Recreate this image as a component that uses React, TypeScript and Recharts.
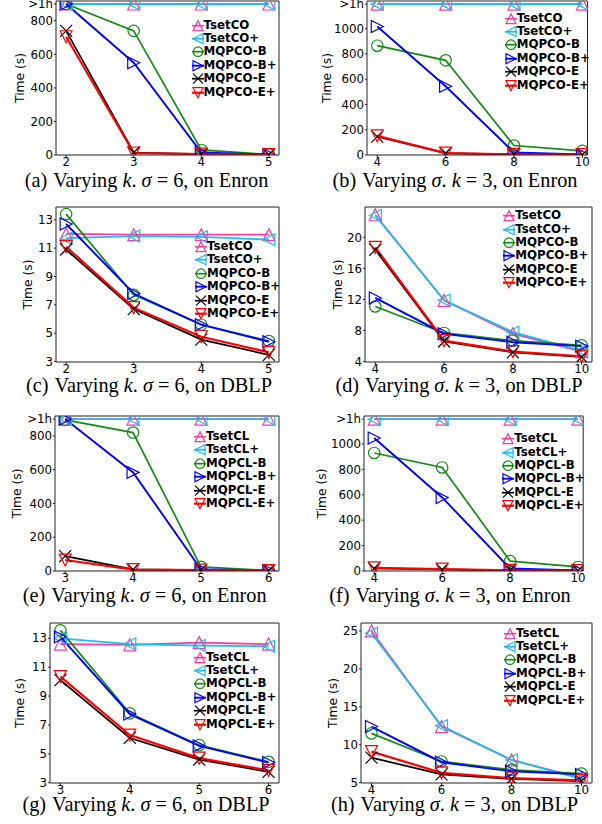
import React from 'react';
import { LineChart, Line, XAxis, YAxis, ReferenceLine, Legend } from 'recharts';

// ---------- data ----------
const kEnronCO = [2, 3, 4, 5];
const sigma = [4, 6, 8, 10];
const kCL = [3, 4, 5, 6];

const namesCO = ['TsetCO', 'TsetCO+', 'MQPCO-B', 'MQPCO-B+', 'MQPCO-E', 'MQPCO-E+'];
const namesCL = ['TsetCL', 'TsetCL+', 'MQPCL-B', 'MQPCL-B+', 'MQPCL-E', 'MQPCL-E+'];

// (a) Varying k, sigma=6, Enron (900 = ">1h")
const aTset = [900, 900, 900, 900];
const aTsetP = [900, 900, 900, 900];
const aB = [900, 740, 30, 3];
const aBP = [900, 550, 15, 3];
const aE = [740, 15, 5, 2];
const aEP = [705, 12, 5, 2];

// (b) Varying sigma, k=3, Enron (1195 = ">1h")
const bTset = [1195, 1195, 1195, 1195];
const bTsetP = [1195, 1195, 1195, 1195];
const bB = [866, 750, 75, 33];
const bBP = [1018, 545, 20, 5];
const bE = [145, 15, 5, 3];
const bEP = [152, 15, 5, 3];

// (c) Varying k, sigma=6, DBLP
const cTset = [12.0, 11.95, 11.95, 11.95];
const cTsetP = [11.7, 11.85, 11.8, 11.6];
const cB = [13.4, 7.7, 5.6, 4.45];
const cBP = [12.7, 7.8, 5.6, 4.4];
const cE = [10.9, 6.7, 4.55, 3.47];
const cEP = [11.1, 6.8, 4.75, 3.65];

// (d) Varying sigma, k=3, DBLP
const dTset = [22.9, 11.9, 7.6, 5.3];
const dTsetP = [22.8, 11.9, 7.8, 5.4];
const dB = [11.1, 7.7, 6.7, 6.1];
const dBP = [12.2, 7.6, 6.5, 6.0];
const dE = [18.4, 6.6, 5.2, 4.6];
const dEP = [18.7, 6.7, 5.3, 4.7];

// (e) Varying k, sigma=6, Enron (CL)
const eTset = [900, 900, 900, 900];
const eTsetP = [900, 900, 900, 900];
const eB = [895, 820, 25, 3];
const eBP = [900, 584, 10, 3];
const eE = [88, 10, 5, 3];
const eEP = [65, 8, 5, 3];

// (f) Varying sigma, k=3, Enron (CL)
const fTset = [1195, 1195, 1195, 1195];
const fTsetP = [1195, 1195, 1195, 1195];
const fB = [929, 815, 78, 32];
const fBP = [1047, 579, 20, 5];
const fE = [20, 12, 5, 3];
const fEP = [25, 15, 5, 3];

// (g) Varying k, sigma=6, DBLP (CL)
const gTset = [12.6, 12.55, 12.7, 12.6];
const gTsetP = [13.0, 12.6, 12.5, 12.45];
const gB = [13.55, 7.8, 5.6, 4.45];
const gBP = [13.1, 7.75, 5.55, 4.4];
const gE = [10.1, 6.1, 4.6, 3.75];
const gEP = [10.35, 6.3, 4.7, 3.85];

// (h) Varying sigma, k=3, DBLP (CL)
const hTset = [25.0, 12.4, 8.0, 5.6];
const hTsetP = [24.7, 12.5, 8.0, 5.5];
const hB = [11.5, 7.8, 6.7, 6.2];
const hBP = [12.4, 7.7, 6.5, 6.1];
const hE = [8.3, 6.1, 5.5, 5.2];
const hEP = [9.1, 6.3, 5.6, 5.3];

const ticksEnronA = [0, 200, 400, 600, 800, 900];
const ticksEnronB = [0, 200, 400, 600, 800, 1000, 1195];
const ticksDblpK = [3, 5, 7, 9, 11, 13];
const ticksDblpS = [4, 8, 12, 16, 20];
const ticksDblpH = [5, 10, 15, 20, 25];

// ---------- style ----------
const PINK = '#f63c9e';
const CYAN = '#1cbcf5';
const GREEN = '#108c10';
const BLUE = '#0000ff';
const BLACK = '#000000';
const RED = '#ff0000';

const SERIES = [
  { key: 't', shape: 'up', color: PINK, width: 1.7 },
  { key: 'tp', shape: 'left', color: CYAN, width: 1.8 },
  { key: 'b', shape: 'circle', color: GREEN, width: 1.7 },
  { key: 'bp', shape: 'right', color: BLUE, width: 1.9 },
  { key: 'e', shape: 'x', color: BLACK, width: 1.7 },
  { key: 'ep', shape: 'down', color: RED, width: 2.2 },
];

function rows(x: number[], s: number[][]) {
  return x.map((xv, i) => ({
    x: xv, t: s[0][i], tp: s[1][i], b: s[2][i], bp: s[3][i], e: s[4][i], ep: s[5][i],
  }));
}

function Marker({ shape, color, cx, cy, s = 6, sw = 1.2 }: any) {
  const c = { fill: 'none', stroke: color, strokeWidth: sw, strokeLinejoin: 'miter' as const };
  switch (shape) {
    case 'up':
      return <polygon points={`${cx},${cy - s} ${cx - s},${cy + s} ${cx + s},${cy + s}`} {...c} />;
    case 'down':
      return <polygon points={`${cx},${cy + s} ${cx - s},${cy - s} ${cx + s},${cy - s}`} {...c} />;
    case 'left':
      return <polygon points={`${cx - s},${cy} ${cx + s},${cy - s} ${cx + s},${cy + s}`} {...c} />;
    case 'right':
      return <polygon points={`${cx + s},${cy} ${cx - s},${cy - s} ${cx - s},${cy + s}`} {...c} />;
    case 'circle':
      return <circle cx={cx} cy={cy} r={s * 0.95} {...c} />;
    default:
      return <path d={`M${cx - s},${cy - s}L${cx + s},${cy + s}M${cx - s},${cy + s}L${cx + s},${cy - s}`} {...c} />;
  }
}

const ROWH = 13.4;

function LegendBox({ names }: { names: string[] }) {
  return (
    <div style={{ fontFamily: 'DejaVu Sans', fontWeight: 'bold', fontSize: 11.8, color: '#000', lineHeight: `${ROWH}px`, whiteSpace: 'nowrap' }}>
      {SERIES.map((s, i) => (
        <div key={s.key} style={{ display: 'flex', alignItems: 'center', height: ROWH }}>
          <svg width={14} height={ROWH} style={{ overflow: 'visible', display: 'block' }}>
            <line x1={1} x2={13} y1={ROWH / 2} y2={ROWH / 2} stroke={s.color} strokeWidth={s.width} />
            <Marker shape={s.shape} color={s.color} cx={7} cy={ROWH / 2} s={5} />
          </svg>
          <span style={{ marginLeft: -1 }}>{names[i]}</span>
        </div>
      ))}
    </div>
  );
}

type Panel = {
  id: string; data: any[]; names: string[];
  L: number; T: number; R: number; B: number;
  xd: [number, number]; xt: number[]; yd: [number, number]; yt: number[];
  hour?: number; labX: number; legX: number; legY: number;
  cap: [string, string, string, string, string]; capX: number; capY: number;
};

const PANELS: Panel[] = [
  { id: 'a', data: rows(kEnronCO, [aTset, aTsetP, aB, aBP, aE, aEP]), names: namesCO,
    L: 56, T: 1, R: 279, B: 155, xd: [1.85, 5.15], xt: kEnronCO, yd: [0, 918], yt: ticksEnronA, hour: 900,
    labX: 20, legX: 197.5, legY: 25.3, cap: ['(a)', 'k', 'σ', '6', 'Enron'], capX: 146.5, capY: 187 },
  { id: 'b', data: rows(sigma, [bTset, bTsetP, bB, bBP, bE, bEP]), names: namesCO,
    L: 366.5, T: 1, R: 587, B: 155, xd: [3.7, 10.15], xt: sigma, yd: [0, 1220], yt: ticksEnronB, hour: 1195,
    labX: 326.7, legX: 510.7, legY: 18.3, cap: ['(b)', 'σ', 'k', '3', 'Enron'], capX: 455, capY: 187 },
  { id: 'c', data: rows(kEnronCO, [cTset, cTsetP, cB, cBP, cE, cEP]), names: namesCO,
    L: 56, T: 207, R: 279, B: 362, xd: [1.85, 5.15], xt: kEnronCO, yd: [2.97, 13.9], yt: ticksDblpK,
    labX: 28.3, legX: 201, legY: 246.7, cap: ['(c)', 'k', 'σ', '6', 'DBLP'], capX: 149, capY: 392.3 },
  { id: 'd', data: rows(sigma, [dTset, dTsetP, dB, dBP, dE, dEP]), names: namesCO,
    L: 365, T: 207, R: 592, B: 362, xd: [3.7, 10.3], xt: sigma, yd: [3.96, 23.9], yt: ticksDblpS,
    labX: 338, legX: 509.3, legY: 216, cap: ['(d)', 'σ', 'k', '3', 'DBLP'], capX: 459, capY: 392.3 },
  { id: 'e', data: rows(kCL, [eTset, eTsetP, eB, eBP, eE, eEP]), names: namesCL,
    L: 55, T: 416, R: 279, B: 571, xd: [2.85, 6.15], xt: kCL, yd: [0, 918], yt: ticksEnronA, hour: 900,
    labX: 16.7, legX: 200, legY: 436.7, cap: ['(e)', 'k', 'σ', '6', 'Enron'], capX: 144.7, capY: 602.3 },
  { id: 'f', data: rows(sigma, [fTset, fTsetP, fB, fBP, fE, fEP]), names: namesCL,
    L: 363.8, T: 416, R: 583, B: 571, xd: [3.7, 10.15], xt: sigma, yd: [0, 1220], yt: ticksEnronB, hour: 1195,
    labX: 321.7, legX: 508.3, legY: 439, cap: ['(f)', 'σ', 'k', '3', 'Enron'], capX: 450, capY: 602.3 },
  { id: 'g', data: rows(kCL, [gTset, gTsetP, gB, gBP, gE, gEP]), names: namesCL,
    L: 50, T: 623, R: 279, B: 783, xd: [2.85, 6.15], xt: kCL, yd: [2.98, 14.06], yt: ticksDblpK,
    labX: 20, legX: 200, legY: 657.3, cap: ['(g)', 'k', 'σ', '6', 'DBLP'], capX: 146, capY: 810.7 },
  { id: 'h', data: rows(sigma, [hTset, hTsetP, hB, hBP, hE, hEP]), names: namesCL,
    L: 361, T: 623, R: 592, B: 783, xd: [3.7, 10.3], xt: sigma, yd: [4.96, 26.05], yt: ticksDblpH,
    labX: 333, legX: 510, legY: 633.3, cap: ['(h)', 'σ', 'k', '3', 'DBLP'], capX: 454.5, capY: 810.7 },
];

const YW = 50, MT = 12, MR = 12, XH = 24;
const TICK_FONT = { fill: '#000', fontSize: 11.8, fontFamily: 'DejaVu Sans' };

function PanelChart({ p }: { p: Panel }) {
  const w = YW + (p.R - p.L) + MR;
  const h = MT + (p.B - p.T) + XH;
  const left = p.L - YW;
  const top = p.T - MT;
  const fmt = (v: number) => (p.hour !== undefined && v === p.hour ? '>1h' : String(v));
  const yLabel = (props: any) => {
    const vb = props.viewBox || {};
    const cx = vb.x + vb.width - (p.L - p.labX);
    const cy = vb.y + vb.height / 2;
    return (
      <text x={cx} y={cy} transform={`rotate(-90 ${cx} ${cy})`} textAnchor="middle" dominantBaseline="central"
        fontFamily="DejaVu Sans" fontSize={12.3} fill="#000">Time (s)</text>
    );
  };
  return (
    <div style={{ position: 'absolute', left, top, width: w, height: h }}>
      <LineChart width={w} height={h} data={p.data} margin={{ top: MT, right: MR, left: 0, bottom: 0 }}>
        <XAxis dataKey="x" type="number" domain={p.xd} ticks={p.xt} allowDataOverflow interval={0}
          tickSize={3} tickMargin={0} height={XH} stroke="#222" tick={TICK_FONT} />
        <YAxis type="number" domain={p.yd} ticks={p.yt} allowDataOverflow interval={0} width={YW}
          tickSize={2} tickMargin={1} stroke="#222" tick={TICK_FONT} tickFormatter={fmt}
          label={{ content: yLabel }} />
        <ReferenceLine x={p.xd[1]} stroke="#222" ifOverflow="visible" />
        <ReferenceLine y={p.yd[1]} stroke="#222" ifOverflow="visible" />
        {SERIES.map((s) => (
          <Line key={s.key} dataKey={s.key} type="linear" stroke={s.color} strokeWidth={s.width}
            isAnimationActive={false} activeDot={false}
            dot={(d: any) => <Marker key={`${s.key}-${d.index}`} shape={s.shape} color={s.color} cx={d.cx} cy={d.cy} />} />
        ))}
        <Legend layout="vertical" align="center" verticalAlign="middle"
          wrapperStyle={{ left: p.legX - 7 - left, top: p.legY - ROWH / 2 - top, width: 'auto', height: 'auto' }}
          content={() => <LegendBox names={p.names} />} />
      </LineChart>
    </div>
  );
}

function Caption({ p }: { p: Panel }) {
  const [lab, v1, v2, val, ds] = p.cap;
  return (
    <text x={p.capX} y={p.capY} textAnchor="middle" fontFamily="Liberation Serif" fontSize={20.3} fill="#000">
      {lab}
      <tspan dx={6}>{'Varying '}</tspan>
      <tspan fontStyle="italic">{v1}</tspan>
      {'. '}
      <tspan fontStyle="italic">{v2}</tspan>
      {` = ${val}, on ${ds}`}
    </text>
  );
}

export default function App() {
  return (
    <div style={{ position: 'absolute', left: 0, top: 0, width: 602, height: 824, background: '#fff', overflow: 'hidden' }}>
      {PANELS.map((p) => <PanelChart key={p.id} p={p} />)}
      <svg width={602} height={824} style={{ position: 'absolute', left: 0, top: 0, pointerEvents: 'none' }}>
        {PANELS.map((p) => <Caption key={p.id} p={p} />)}
      </svg>
    </div>
  );
}
